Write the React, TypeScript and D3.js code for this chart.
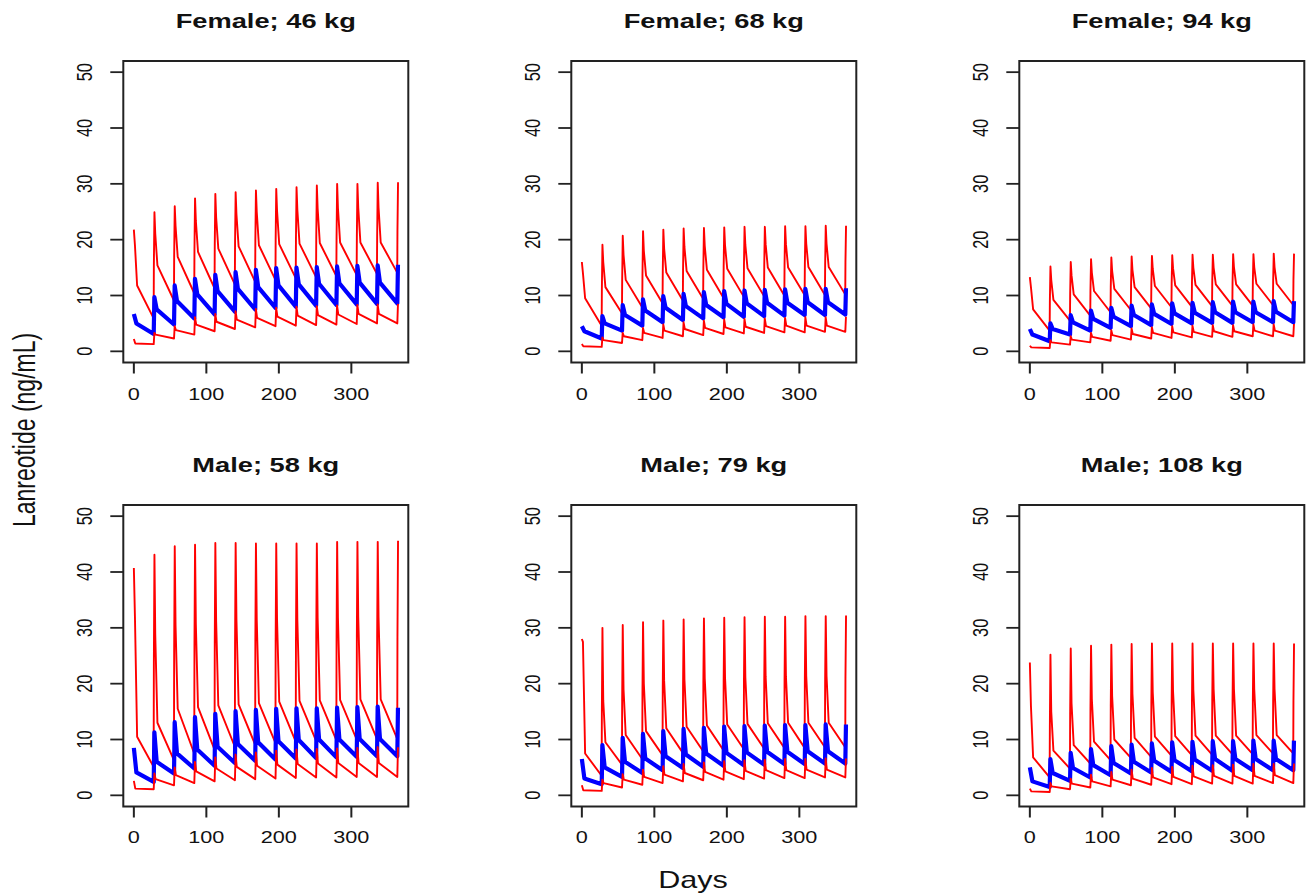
import React from "react";
import * as d3 from "d3";

// ---------- shared axis data ----------
const DOSE_DAYS = [0, 28, 56, 84, 112, 140, 168, 196, 224, 252, 280, 308, 336, 364];
const X_TICKS = [0, 100, 200, 300];
const Y_TICKS = [0, 10, 20, 30, 40, 50];
const PANEL_TITLES = ["Female; 46 kg", "Female; 68 kg", "Female; 94 kg", "Male; 58 kg", "Male; 79 kg", "Male; 108 kg"];
const Y_LABEL = "Lanreotide (ng/mL)";
const X_LABEL = "Days";

// ---------- Female 46 kg ----------
const hiPeak_F46 = [21.8, 24.9, 26.0, 27.4, 28.2, 28.5, 28.8, 29.1, 29.4, 29.7, 30.0, 30.0, 30.2, 30.3];
const hiRise_F46 = [15.4, 17.0, 18.2, 19.0, 19.5, 19.8, 20.0, 20.2, 20.3, 20.4, 20.5, 20.6, 21.6];
const hiShoulder_F46 = [19.0, 21.1, 22.5, 23.4, 24.0, 24.6, 25.0, 25.2, 25.4, 25.6, 25.7, 25.8, 25.8];
const hiFall_F46 = [11.8, 15.4, 16.9, 17.8, 18.4, 18.8, 19.0, 19.2, 19.3, 19.4, 19.5, 19.5, 19.5];
const hiTrough_F46 = [5.9, 9.1, 10.4, 11.3, 12.0, 12.5, 12.8, 13.1, 13.3, 13.5, 13.7, 13.9, 14.1];
const medPeak_F46 = [6.7, 9.7, 11.8, 13.0, 13.7, 14.2, 14.6, 14.9, 15.0, 15.1, 15.2, 15.3, 15.4, 15.5];
const medShoulder_F46 = [5.0, 7.5, 9.0, 10.2, 10.8, 11.2, 11.5, 11.8, 12.0, 12.1, 12.2, 12.3, 12.3];
const medTrough_F46 = [3.1, 4.8, 5.9, 6.6, 7.1, 7.5, 7.8, 8.0, 8.2, 8.3, 8.4, 8.5, 8.6];
const loPeak_F46 = [2.2, 3.3, 4.5, 6.1, 6.7, 7.2, 7.6, 7.8, 8.0, 8.1, 8.2, 8.3, 8.4, 8.5];
const loShoulder_F46 = [1.4, 3.0, 3.8, 4.8, 5.3, 5.7, 6.0, 6.2, 6.4, 6.5, 6.6, 6.7, 6.7];
const loTrough_F46 = [1.3, 2.3, 3.0, 3.6, 4.0, 4.3, 4.5, 4.6, 4.7, 4.8, 4.9, 5.0, 5.0];

// ---------- Female 68 kg ----------
const hiPeak_F68 = [16.0, 19.1, 20.7, 21.5, 21.8, 22.0, 22.1, 22.2, 22.3, 22.3, 22.4, 22.4, 22.5, 22.5];
const hiRise_F68 = [11.0, 12.5, 13.5, 14.2, 14.6, 15.0, 15.2, 15.3, 15.4, 15.5, 15.5, 15.6, 16.0];
const hiShoulder_F68 = [14.0, 16.0, 17.3, 18.0, 18.4, 18.7, 18.9, 19.0, 19.1, 19.2, 19.2, 19.3, 19.3];
const hiFall_F68 = [9.5, 11.5, 12.8, 13.6, 14.1, 14.4, 14.6, 14.8, 14.9, 15.0, 15.0, 15.1, 15.1];
const hiTrough_F68 = [4.6, 6.8, 7.9, 8.6, 9.1, 9.4, 9.6, 9.8, 9.9, 10.0, 10.1, 10.1, 10.2];
const medPeak_F68 = [4.5, 6.3, 8.3, 9.3, 9.9, 10.3, 10.6, 10.8, 10.9, 11.0, 11.1, 11.2, 11.2, 11.3];
const medShoulder_F68 = [3.6, 5.0, 6.5, 7.3, 7.8, 8.1, 8.3, 8.5, 8.6, 8.7, 8.7, 8.8, 8.8];
const medTrough_F68 = [2.3, 3.7, 4.6, 5.2, 5.6, 5.9, 6.1, 6.2, 6.3, 6.4, 6.5, 6.5, 6.6];
const loPeak_F68 = [1.3, 2.5, 3.3, 4.2, 4.8, 5.2, 5.5, 5.7, 5.8, 5.9, 6.0, 6.1, 6.1, 6.2];
const loShoulder_F68 = [0.9, 2.0, 2.7, 3.3, 3.7, 4.0, 4.2, 4.3, 4.4, 4.5, 4.6, 4.6, 4.6];
const loTrough_F68 = [0.8, 1.5, 2.0, 2.4, 2.7, 2.9, 3.1, 3.2, 3.3, 3.4, 3.4, 3.5, 3.5];

// ---------- Female 94 kg ----------
const hiPeak_F94 = [13.3, 15.2, 16.0, 16.5, 16.8, 17.0, 17.1, 17.2, 17.3, 17.3, 17.4, 17.4, 17.5, 17.5];
const hiRise_F94 = [9.0, 10.2, 11.0, 11.5, 11.8, 12.0, 12.2, 12.3, 12.4, 12.4, 12.5, 12.5, 12.8];
const hiShoulder_F94 = [11.5, 12.8, 13.6, 14.1, 14.4, 14.6, 14.8, 14.9, 15.0, 15.0, 15.1, 15.1, 15.1];
const hiFall_F94 = [7.5, 9.2, 10.2, 10.8, 11.2, 11.5, 11.7, 11.8, 11.9, 12.0, 12.0, 12.1, 12.1];
const hiTrough_F94 = [3.7, 5.5, 6.4, 7.0, 7.4, 7.7, 7.9, 8.0, 8.1, 8.2, 8.2, 8.3, 8.3];
const medPeak_F94 = [4.0, 5.0, 6.5, 7.3, 7.8, 8.2, 8.4, 8.6, 8.7, 8.8, 8.9, 8.9, 9.0, 9.0];
const medShoulder_F94 = [3.0, 4.0, 5.2, 5.8, 6.2, 6.5, 6.7, 6.8, 6.9, 7.0, 7.0, 7.0, 7.1];
const medTrough_F94 = [1.8, 3.0, 3.7, 4.2, 4.5, 4.7, 4.9, 5.0, 5.1, 5.1, 5.2, 5.2, 5.2];
const loPeak_F94 = [1.0, 2.0, 2.7, 3.3, 3.8, 4.1, 4.3, 4.5, 4.6, 4.7, 4.7, 4.8, 4.8, 4.9];
const loShoulder_F94 = [0.7, 1.6, 2.1, 2.6, 2.9, 3.1, 3.3, 3.4, 3.5, 3.6, 3.6, 3.7, 3.7];
const loTrough_F94 = [0.6, 1.2, 1.6, 1.9, 2.1, 2.3, 2.4, 2.5, 2.6, 2.6, 2.7, 2.7, 2.7];

// ---------- Male 58 kg ----------
const hiPeak_M58 = [40.7, 43.1, 44.6, 44.9, 45.2, 45.2, 45.1, 45.1, 45.1, 45.1, 45.4, 45.4, 45.4, 45.6];
const hiRise_M58 = [23.9, 25.7, 27.1, 27.1, 27.4, 27.7, 27.5, 27.7, 28.2, 28.0, 28.3, 28.5, 28.5];
const hiShoulder_M58 = [32.0, 28.9, 30.5, 30.7, 31.2, 31.6, 31.5, 31.6, 31.5, 31.8, 31.8, 32.0, 32.0];
const hiFall_M58 = [10.5, 13.0, 15.5, 15.8, 16.1, 16.3, 16.5, 16.8, 16.9, 17.0, 17.1, 17.2, 17.2];
const hiTrough_M58 = [5.1, 6.3, 7.5, 8.2, 8.7, 9.1, 9.4, 9.6, 9.8, 9.9, 10.0, 10.1, 10.1];
const medPeak_M58 = [8.5, 11.3, 13.1, 14.0, 14.6, 15.1, 15.3, 15.5, 15.6, 15.6, 15.7, 15.8, 15.9, 15.7];
const medShoulder_M58 = [4.1, 6.0, 7.5, 8.2, 8.7, 9.2, 9.5, 9.7, 9.9, 10.0, 10.0, 10.1, 10.1];
const medTrough_M58 = [2.4, 3.9, 4.8, 5.3, 5.8, 6.2, 6.4, 6.6, 6.7, 6.8, 6.9, 7.0, 7.0];
const loPeak_M58 = [2.6, 3.9, 5.0, 6.0, 6.8, 7.3, 7.7, 8.0, 8.2, 8.3, 8.4, 8.5, 8.6, 8.6];
const loShoulder_M58 = [1.2, 2.9, 3.6, 4.3, 4.8, 5.1, 5.3, 5.5, 5.6, 5.7, 5.8, 5.8, 5.8];
const loTrough_M58 = [1.1, 1.8, 2.2, 2.5, 2.7, 2.9, 3.0, 3.1, 3.2, 3.2, 3.3, 3.3, 3.3];

// ---------- Male 79 kg ----------
const hiPeak_M79 = [28.0, 30.0, 30.5, 31.0, 31.3, 31.5, 31.7, 31.8, 31.9, 32.0, 32.0, 32.1, 32.1, 32.2];
const hiRise_M79 = [15.0, 17.0, 18.5, 19.3, 19.8, 20.2, 20.4, 20.6, 20.7, 20.8, 20.9, 21.0, 21.0];
const hiShoulder_M79 = [27.5, 17.0, 19.0, 20.0, 20.5, 20.8, 21.0, 21.1, 21.2, 21.3, 21.3, 21.4, 21.4];
const hiFall_M79 = [7.5, 9.5, 10.8, 11.5, 12.0, 12.3, 12.5, 12.7, 12.8, 12.9, 13.0, 13.0, 13.0];
const hiTrough_M79 = [3.5, 5.5, 6.5, 7.2, 7.6, 7.9, 8.1, 8.3, 8.4, 8.5, 8.5, 8.6, 8.6];
const medPeak_M79 = [6.5, 9.0, 10.3, 11.0, 11.5, 11.9, 12.1, 12.3, 12.4, 12.5, 12.6, 12.6, 12.7, 12.7];
const medShoulder_M79 = [3.0, 5.0, 6.0, 6.6, 7.0, 7.3, 7.5, 7.6, 7.7, 7.8, 7.8, 7.9, 7.9];
const medTrough_M79 = [2.0, 3.3, 4.0, 4.5, 4.9, 5.1, 5.3, 5.4, 5.5, 5.6, 5.6, 5.7, 5.7];
const loPeak_M79 = [1.8, 2.8, 3.8, 4.6, 5.2, 5.6, 5.9, 6.1, 6.3, 6.4, 6.5, 6.5, 6.6, 6.6];
const loShoulder_M79 = [0.9, 2.2, 2.8, 3.3, 3.7, 4.0, 4.2, 4.3, 4.4, 4.5, 4.5, 4.6, 4.6];
const loTrough_M79 = [0.8, 1.4, 1.9, 2.2, 2.5, 2.7, 2.8, 2.9, 3.0, 3.1, 3.1, 3.2, 3.2];

// ---------- Male 108 kg ----------
const hiPeak_M108 = [23.8, 25.2, 26.3, 26.8, 27.0, 27.1, 27.2, 27.2, 27.2, 27.2, 27.2, 27.2, 27.2, 27.2];
const hiRise_M108 = [12.5, 14.5, 15.5, 16.0, 16.4, 16.6, 16.8, 16.9, 17.0, 17.0, 17.0, 17.0, 17.0];
const hiShoulder_M108 = [16.0, 15.0, 16.5, 17.3, 17.8, 18.2, 18.5, 18.7, 18.9, 19.0, 19.1, 19.1, 19.1];
const hiFall_M108 = [6.8, 8.0, 9.0, 9.6, 10.0, 10.3, 10.5, 10.6, 10.7, 10.7, 10.7, 10.8, 10.8];
const hiTrough_M108 = [3.2, 4.8, 5.7, 6.3, 6.7, 6.9, 7.1, 7.2, 7.3, 7.4, 7.4, 7.5, 7.5];
const medPeak_M108 = [5.0, 6.5, 7.6, 8.3, 8.8, 9.1, 9.3, 9.5, 9.6, 9.7, 9.7, 9.8, 9.8, 9.8];
const medShoulder_M108 = [2.5, 4.0, 4.9, 5.4, 5.8, 6.0, 6.2, 6.3, 6.4, 6.5, 6.5, 6.5, 6.5];
const medTrough_M108 = [1.5, 2.6, 3.2, 3.6, 3.9, 4.1, 4.2, 4.3, 4.4, 4.4, 4.5, 4.5, 4.5];
const loPeak_M108 = [1.2, 2.2, 3.0, 3.7, 4.2, 4.6, 4.9, 5.1, 5.3, 5.4, 5.5, 5.6, 5.6, 5.7];
const loShoulder_M108 = [0.7, 1.6, 2.1, 2.5, 2.8, 3.0, 3.2, 3.3, 3.4, 3.5, 3.5, 3.5, 3.6];
const loTrough_M108 = [0.6, 1.1, 1.4, 1.6, 1.8, 1.9, 2.0, 2.0, 2.1, 2.1, 2.1, 2.2, 2.2];

type Pt = [number, number];
type Hi = { peak: number[]; rise: number[]; shoulder: number[]; fall: number[]; trough: number[] };
type Simple = { peak: number[]; shoulder: number[]; trough: number[] };
type Panel = { title: string; hi: Hi; med: Simple; lo: Simple };

const PANELS: Panel[] = [
  { title: PANEL_TITLES[0], hi: { peak: hiPeak_F46, rise: hiRise_F46, shoulder: hiShoulder_F46, fall: hiFall_F46, trough: hiTrough_F46 }, med: { peak: medPeak_F46, shoulder: medShoulder_F46, trough: medTrough_F46 }, lo: { peak: loPeak_F46, shoulder: loShoulder_F46, trough: loTrough_F46 } },
  { title: PANEL_TITLES[1], hi: { peak: hiPeak_F68, rise: hiRise_F68, shoulder: hiShoulder_F68, fall: hiFall_F68, trough: hiTrough_F68 }, med: { peak: medPeak_F68, shoulder: medShoulder_F68, trough: medTrough_F68 }, lo: { peak: loPeak_F68, shoulder: loShoulder_F68, trough: loTrough_F68 } },
  { title: PANEL_TITLES[2], hi: { peak: hiPeak_F94, rise: hiRise_F94, shoulder: hiShoulder_F94, fall: hiFall_F94, trough: hiTrough_F94 }, med: { peak: medPeak_F94, shoulder: medShoulder_F94, trough: medTrough_F94 }, lo: { peak: loPeak_F94, shoulder: loShoulder_F94, trough: loTrough_F94 } },
  { title: PANEL_TITLES[3], hi: { peak: hiPeak_M58, rise: hiRise_M58, shoulder: hiShoulder_M58, fall: hiFall_M58, trough: hiTrough_M58 }, med: { peak: medPeak_M58, shoulder: medShoulder_M58, trough: medTrough_M58 }, lo: { peak: loPeak_M58, shoulder: loShoulder_M58, trough: loTrough_M58 } },
  { title: PANEL_TITLES[4], hi: { peak: hiPeak_M79, rise: hiRise_M79, shoulder: hiShoulder_M79, fall: hiFall_M79, trough: hiTrough_M79 }, med: { peak: medPeak_M79, shoulder: medShoulder_M79, trough: medTrough_M79 }, lo: { peak: loPeak_M79, shoulder: loShoulder_M79, trough: loTrough_M79 } },
  { title: PANEL_TITLES[5], hi: { peak: hiPeak_M108, rise: hiRise_M108, shoulder: hiShoulder_M108, fall: hiFall_M108, trough: hiTrough_M108 }, med: { peak: medPeak_M108, shoulder: medShoulder_M108, trough: medTrough_M108 }, lo: { peak: loPeak_M108, shoulder: loShoulder_M108, trough: loTrough_M108 } },
];

// ---------- layout ----------
const W = 1307;
const H = 893;
const SX = 1.33; // horizontal stretch of text glyphs in the reference
const COL_LEFT = [123.3, 571.3, 1019.3];
const ROW_TOP = [61, 505];
const BOX_W = 285;
const BOX_H = 301.5;
const FONT = "'Liberation Sans', Arial, Helvetica, sans-serif";

function hiPoints(s: Hi): Pt[] {
  const pts: Pt[] = [];
  DOSE_DAYS.forEach((d, k) => {
    if (k > 0) pts.push([d - 0.4, s.rise[k - 1]]);
    pts.push([k === 0 ? d : d + 0.4, s.peak[k]]);
    if (k < s.trough.length) {
      pts.push([d + 1.5, s.shoulder[k]]);
      pts.push([d + 4.5, s.fall[k]]);
      pts.push([d + 27.3, s.trough[k]]);
    }
  });
  return pts;
}

function simplePoints(s: Simple, shoulderAt: number): Pt[] {
  const pts: Pt[] = [];
  DOSE_DAYS.forEach((d, k) => {
    pts.push([k === 0 ? d : d + 0.3, s.peak[k]]);
    if (k < s.trough.length) {
      pts.push([d + shoulderAt, s.shoulder[k]]);
      pts.push([d + 27.4, s.trough[k]]);
    }
  });
  return pts;
}

function SText(props: { x: number; y: number; size: number; bold?: boolean; rotate?: number; children: React.ReactNode }) {
  const { x, y, size, bold, rotate, children } = props;
  return (
    <text
      transform={`translate(${x},${y}) scale(${SX},1)${rotate ? ` rotate(${rotate})` : ""}`}
      fontSize={size}
      fontWeight={bold ? "bold" : "normal"}
      fontFamily={FONT}
      textAnchor="middle"
      fill="#111"
    >
      {children}
    </text>
  );
}

function PanelView({ panel, idx }: { panel: Panel; idx: number }) {
  const left = COL_LEFT[idx % 3];
  const top = ROW_TOP[Math.floor(idx / 3)];
  const bottom = top + BOX_H;
  const x = d3.scaleLinear().domain([-14.56, 378.56]).range([left, left + BOX_W]);
  const y = d3.scaleLinear().domain([-2, 52]).range([bottom, top]);
  const line = d3.line<Pt>().x((p) => x(p[0])).y((p) => y(p[1]));
  const hi = line(hiPoints(panel.hi)) || "";
  const med = line(simplePoints(panel.med, 3.5)) || "";
  const lo = line(simplePoints(panel.lo, 2)) || "";
  const labelBase = Math.floor(idx / 3) === 0 ? 400 : 843;
  return (
    <g>
      <SText x={left + BOX_W / 2} y={top - 32.7} size={20.5} bold>
        {panel.title}
      </SText>
      <path d={hi} fill="none" stroke="#ff0000" strokeWidth={1.9} strokeLinejoin="round" />
      <path d={med} fill="none" stroke="#0000ff" strokeWidth={4.2} strokeLinejoin="round" />
      <path d={lo} fill="none" stroke="#ff0000" strokeWidth={1.9} strokeLinejoin="round" />
      <rect x={left} y={top} width={BOX_W} height={BOX_H} fill="none" stroke="#222" strokeWidth={2} />
      {Y_TICKS.map((t) => (
        <g key={"y" + t}>
          <line x1={left} x2={left - 13} y1={y(t)} y2={y(t)} stroke="#222" strokeWidth={1.8} />
          <SText x={left - 31.6} y={y(t)} size={16.3} rotate={-90}>
            {t}
          </SText>
        </g>
      ))}
      {X_TICKS.map((t) => (
        <g key={"x" + t}>
          <line x1={x(t)} x2={x(t)} y1={bottom} y2={bottom + 11} stroke="#222" strokeWidth={2} />
          <SText x={x(t)} y={labelBase} size={16.3}>
            {t}
          </SText>
        </g>
      ))}
    </g>
  );
}

export default function App() {
  return (
    <svg width={W} height={H} viewBox={`0 0 ${W} ${H}`} style={{ display: "block", position: "absolute", left: 0, top: 0, background: "#fff" }}>
      <rect x={0} y={0} width={W} height={H} fill="#fff" />
      {PANELS.map((p, i) => (
        <PanelView key={p.title} panel={p} idx={i} />
      ))}
      <SText x={35} y={430} size={23} rotate={-90}>
        {Y_LABEL}
      </SText>
      <SText x={693} y={888} size={23}>
        {X_LABEL}
      </SText>
    </svg>
  );
}
